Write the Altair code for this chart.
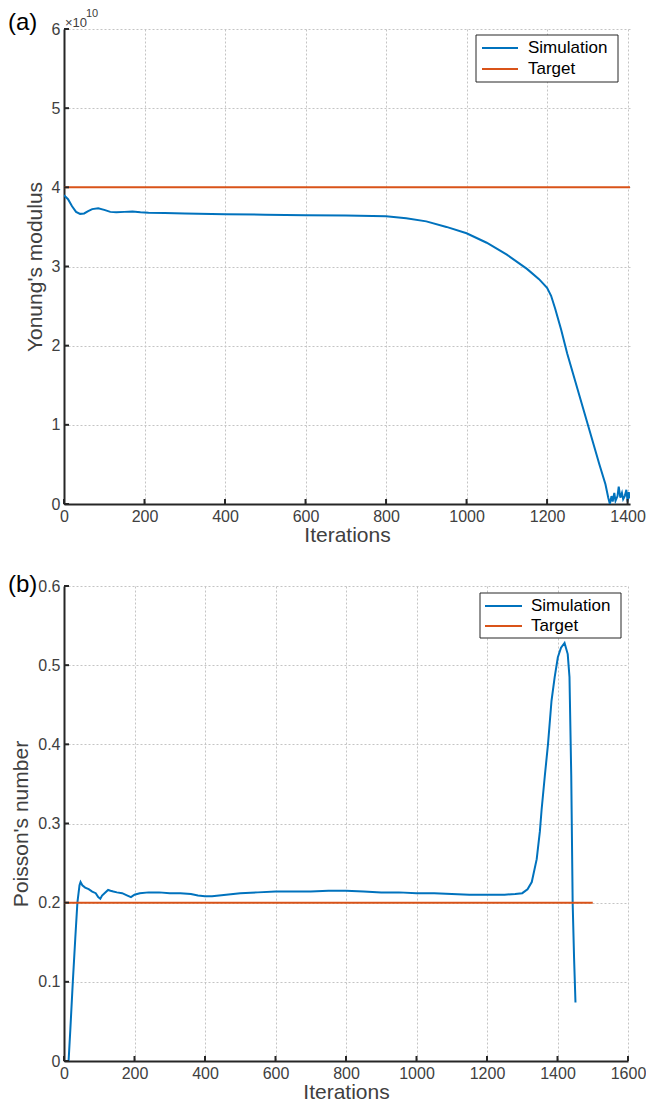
import altair as alt
import pandas as pd

FONT = "Liberation Sans"
BLUE = "#0072BD"
ORANGE = "#D95319"
AXIS = "#262626"
TXT = "#404040"

# ---------------- panel (a): Young's modulus ----------------
a_iter = [0, 10, 20, 30, 40, 50, 60, 70, 85, 100, 115, 130, 150, 170, 190, 210,
          250, 300, 400, 500, 600, 700, 800, 850, 900, 950, 1000, 1050, 1100,
          1150, 1180, 1200, 1210, 1220, 1235, 1250, 1270, 1290, 1310, 1330,
          1345, 1352, 1356, 1360, 1363, 1367, 1370, 1375, 1378, 1382, 1386,
          1389, 1393, 1397, 1400, 1403, 1405]
a_modulus_e10 = [3.90, 3.85, 3.76, 3.69, 3.665, 3.67, 3.70, 3.725, 3.735, 3.715,
                 3.69, 3.685, 3.69, 3.695, 3.685, 3.678, 3.675, 3.67, 3.66,
                 3.655, 3.648, 3.645, 3.635, 3.61, 3.57, 3.50, 3.42, 3.30, 3.15,
                 2.97, 2.84, 2.73, 2.63, 2.47, 2.20, 1.90, 1.55, 1.20, 0.85,
                 0.50, 0.25, 0.08, 0.00, 0.10, 0.03, 0.14, 0.04, 0.10, 0.22,
                 0.08, 0.14, 0.06, 0.10, 0.18, 0.03, 0.15, 0.07]
a_target_iter = [0, 1406]
a_target_e10 = [4.0, 4.0]
a_xticks = [0, 200, 400, 600, 800, 1000, 1200, 1400]
a_yticks_e10 = [0, 1, 2, 3, 4, 5, 6]

# ---------------- panel (b): Poisson's number ----------------
b_iter = [0, 13, 18, 25, 32, 38, 44, 47, 52, 60, 70, 80, 90, 97, 103, 108, 115,
          125, 132, 140, 150, 165, 180, 190, 200, 215, 240, 270, 300, 330, 360,
          380, 400, 420, 440, 460, 480, 500, 550, 600, 650, 700, 750, 800, 850,
          900, 950, 1000, 1050, 1100, 1150, 1200, 1250, 1280, 1300, 1315, 1327,
          1341, 1350, 1355, 1364, 1373, 1383, 1392, 1401, 1410, 1420, 1429,
          1434, 1439, 1443, 1447, 1451]
b_poisson = [0.0, 0.0, 0.04, 0.10, 0.155, 0.20, 0.222, 0.226, 0.222, 0.219,
             0.217, 0.214, 0.212, 0.207, 0.205, 0.209, 0.212, 0.216, 0.215,
             0.214, 0.213, 0.212, 0.209, 0.207, 0.210, 0.212, 0.213, 0.213,
             0.212, 0.212, 0.211, 0.209, 0.208, 0.208, 0.209, 0.210, 0.211,
             0.212, 0.213, 0.214, 0.214, 0.214, 0.215, 0.215, 0.214, 0.213,
             0.213, 0.212, 0.212, 0.211, 0.210, 0.210, 0.210, 0.211, 0.212,
             0.217, 0.226, 0.255, 0.29, 0.318, 0.36, 0.40, 0.455, 0.485, 0.51,
             0.522, 0.528, 0.514, 0.485, 0.36, 0.20, 0.13, 0.074]
b_target_iter = [0, 1500]
b_target = [0.2, 0.2]
b_xticks = [0, 200, 400, 600, 800, 1000, 1200, 1400, 1600]
b_yticks = [0, 0.1, 0.2, 0.3, 0.4, 0.5, 0.6]

SERIES = ["Simulation", "Target"]
COLORS = [BLUE, ORANGE]
H = 475


def line_df(it, val, tit, tval):
    rows = [{"iter": i, "val": v, "series": "Simulation", "k": n}
            for n, (i, v) in enumerate(zip(it, val))]
    rows += [{"iter": i, "val": v, "series": "Target", "k": n}
             for n, (i, v) in enumerate(zip(tit, tval))]
    return pd.DataFrame(rows)


def legend_layers(box, line_x, label_x, rows_y):
    """Boxed legend in the upper right corner of a panel (pixel offsets)."""
    ldf = pd.DataFrame({"series": SERIES})
    x0, x1, y0, y1 = box
    out = [alt.Chart(ldf).transform_filter(alt.datum.series == SERIES[0])
           .mark_rect(fill="white", stroke=AXIS, strokeWidth=1)
           .encode(x=alt.value(x0), x2=alt.value(x1), y=alt.value(y0),
                   y2=alt.value(y1))]
    for name, col, ry in zip(SERIES, COLORS, rows_y):
        base = alt.Chart(ldf).transform_filter(alt.datum.series == name)
        out.append(base.mark_rule(color=col, strokeWidth=2).encode(
            x=alt.value(line_x[0]), x2=alt.value(line_x[1]), y=alt.value(ry)))
        out.append(base.mark_text(align="left", baseline="middle", font=FONT,
                                  fontSize=17, color="black").encode(
            text="series:N", x=alt.value(label_x), y=alt.value(ry)))
    return out


def panel(df, W, xdom, ydom, xticks, yticks, ytitle, ylabel_expr, letter,
          letter_dx, letter_y, legend, xtitle_y, extra=None):
    xs = alt.Scale(domain=xdom, nice=False, zero=False)
    ys = alt.Scale(domain=ydom, nice=False, zero=False)
    xaxis = alt.Axis(values=xticks, title="Iterations", grid=True, ticks=False,
                     tickSize=0, labelPadding=4, labelFlush=False,
                     labelExpr="format(datum.value, 'd')",
                     titleY=xtitle_y, titleBaseline="alphabetic")
    yaxis = alt.Axis(values=yticks, title=ytitle, grid=True, ticks=False,
                     tickSize=0, labelPadding=4, labelFlush=False,
                     labelExpr=ylabel_expr, titlePadding=6)
    lines = alt.Chart(df).mark_line(strokeWidth=2, clip=True).encode(
        x=alt.X("iter:Q", scale=xs, axis=xaxis),
        y=alt.Y("val:Q", scale=ys, axis=yaxis),
        color=alt.Color("series:N",
                        scale=alt.Scale(domain=SERIES, range=COLORS),
                        legend=None),
        order="k:Q",
        detail="series:N",
    )
    ytick_df = pd.DataFrame({"v": yticks})
    xtick_df = pd.DataFrame({"v": xticks})
    yt = alt.Chart(ytick_df).mark_rule(color=AXIS, strokeWidth=2).encode(
        y=alt.Y("v:Q", scale=ys), x=alt.value(0), x2=alt.value(5))
    xt = alt.Chart(xtick_df).mark_rule(color=AXIS, strokeWidth=2).encode(
        x=alt.X("v:Q", scale=xs), y=alt.value(H), y2=alt.value(H - 5))
    lab = alt.Chart(pd.DataFrame({"t": [letter]})).mark_text(
        align="left", baseline="alphabetic", fontSize=24, font=FONT,
        color="black").encode(text="t:N", x=alt.value(letter_dx),
                              y=alt.value(letter_y))
    layers = [lines, yt, xt, lab] + legend_layers(*legend)
    if extra:
        layers += extra
    return alt.layer(*layers).properties(width=W, height=H)


a_df = line_df(a_iter, [v * 1e10 for v in a_modulus_e10],
               a_target_iter, [v * 1e10 for v in a_target_e10])
b_df = line_df(b_iter, b_poisson, b_target_iter, b_target)

mult = alt.Chart(pd.DataFrame({"t": ["×10"]})).mark_text(
    align="left", baseline="alphabetic", fontSize=13, font=FONT,
    color=TXT).encode(text="t:N", x=alt.value(1), y=alt.value(-2))
sup = alt.Chart(pd.DataFrame({"t": ["10"]})).mark_text(
    align="left", baseline="alphabetic", fontSize=11, font=FONT,
    color=TXT).encode(text="t:N", x=alt.value(22), y=alt.value(-12))

top = panel(a_df, 566, [0, 1406], [0, 6e10], a_xticks,
            [v * 1e10 for v in a_yticks_e10], "Yonung's modulus",
            "format(datum.value / 1e10, 'd')", "(a)", -56, 1,
            ((412, 554, 6, 53), (418, 454), 464, (19, 40)), 37,
            extra=[mult, sup])
bottom = panel(b_df, 564, [0, 1600], [0, 0.6], b_xticks, b_yticks,
               "Poisson's number",
               "datum.value == 0 ? '0' : format(datum.value, '.1f')",
               "(b)", -56, 6,
               ((416, 557, 7, 52), (421, 458), 467, (20, 40)), 37)

chart = alt.concat(top, bottom, columns=1, spacing=28, align="none").resolve_scale(
    color="independent", x="independent", y="independent"
).configure_view(stroke=None).configure_axis(
    labelFont=FONT, titleFont=FONT, labelFontSize=16, titleFontSize=21,
    titleFontWeight="normal", labelColor=TXT, titleColor=TXT,
    domainColor=AXIS, domainWidth=2, gridColor="#c4c4c4", gridDash=[2, 2],
    gridWidth=1,
).properties(background="white", padding=0)

chart.save("out.html", embed_options={"renderer": "svg", "actions": False})
